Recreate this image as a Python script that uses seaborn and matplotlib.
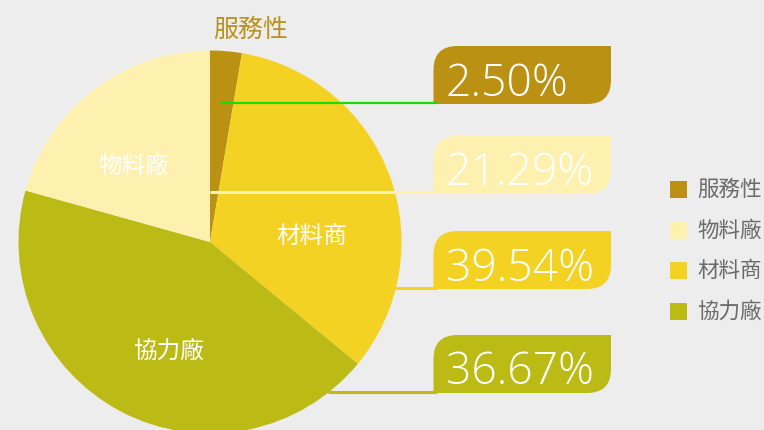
import matplotlib
matplotlib.use("Agg")
import matplotlib.pyplot as plt
import seaborn as sns
from matplotlib import font_manager
from matplotlib.path import Path
from matplotlib.patches import PathPatch, Rectangle

# categories in legend order
categories = ["服務性", "物料廠", "材料商", "協力廠"]
pct_labels = ["2.50%", "21.29%", "39.54%", "36.67%"]
# slice shares as drawn in the picture (clockwise from 12 o'clock: 服務性, 材料商, 協力廠, 物料廠)
slice_share = [2.67, 20.67, 33.3, 43.36]
pie_order = [0, 2, 3, 1]

colors = ["#BA9112", "#FEF1AF", "#F4D224", "#BCBA15"]
line_colors = ["#17DC00", "#FEF1AF", "#F4D224", "#BCBA15"]
BG = "#EDEDED"

sns.set_theme(style="white")
plt.rcParams["font.family"] = ["Noto Sans CJK TC", "DejaVu Sans"]

# thin weight for the big numbers if the font has one
light = any(f.name == "Open Sans" and f.weight in (300, "light") for f in font_manager.fontManager.ttflist)
num_weight = "light" if light else "normal"

W, H = 764, 431


def py(y):
    # pixel row (from top) -> data y
    return H - y


def tab_box(ax, left, top, right, bottom, r, color):
    L, R, T, B = left, right, py(top), py(bottom)
    verts = [(L, B), (R - r, B), (R, B), (R, B + r), (R, T), (L + r, T),
             (L, T), (L, T - r), (L, B)]
    codes = [Path.MOVETO, Path.LINETO, Path.CURVE3, Path.CURVE3, Path.LINETO,
             Path.LINETO, Path.CURVE3, Path.CURVE3, Path.CLOSEPOLY]
    ax.add_patch(PathPatch(Path(verts, codes), facecolor=color, edgecolor="none", zorder=3))


fig = plt.figure(figsize=(W / 100, H / 100), dpi=100, facecolor=BG)
ax = fig.add_axes([0, 0, 1, 1])
ax.set_facecolor(BG)

pal = sns.color_palette(colors)
ax.pie([slice_share[i] for i in pie_order], colors=[pal[i] for i in pie_order],
       startangle=90, counterclock=False, center=(210, py(243)), radius=191.5,
       frame=True, wedgeprops=dict(linewidth=0))

ax.set_xlim(0, W)
ax.set_ylim(0, H)
ax.set_aspect("equal")
ax.axis("off")

# slice labels
ax.text(251, py(30), categories[0], color="#B8921F", fontsize=18, ha="center", va="center")
ax.text(134, py(166), categories[1], color="white", fontsize=17, ha="center", va="center")
ax.text(312, py(236), categories[2], color="white", fontsize=17, ha="center", va="center")
ax.text(168, py(351), categories[3], color="white", fontsize=17, ha="center", va="center")

# value tabs with leader lines
boxes = [(47, 105), (137, 195), (232, 290), (336, 394)]
baselines = [96, 185, 281, 384]
line_y = [104, 193, 289, 393]
line_x0 = [220, 210, 395, 328]
line_w = [1.6, 2.2, 2.2, 2.2]
for i in range(4):
    top, bottom = boxes[i]
    tab_box(ax, 433.5, top, 611, bottom, 24, colors[i])
    ax.plot([line_x0[i], 437], [py(line_y[i])] * 2, color=line_colors[i], lw=line_w[i],
            solid_capstyle="butt", zorder=4)
    ax.text(446, py(baselines[i]), pct_labels[i], color="white", fontsize=32,
            family="Open Sans", fontweight=num_weight, ha="left", va="baseline", zorder=5)

# legend
leg_y = [190, 231, 271, 312]
for i in range(4):
    ax.add_patch(Rectangle((670, py(leg_y[i]) - 8.5), 17, 17, facecolor=colors[i],
                           edgecolor="none"))
    ax.text(697, py(leg_y[i]), categories[i], color="#6A6A6A", fontsize=15.5,
            ha="left", va="center")

fig.savefig("out.png", dpi=100, facecolor=BG)
